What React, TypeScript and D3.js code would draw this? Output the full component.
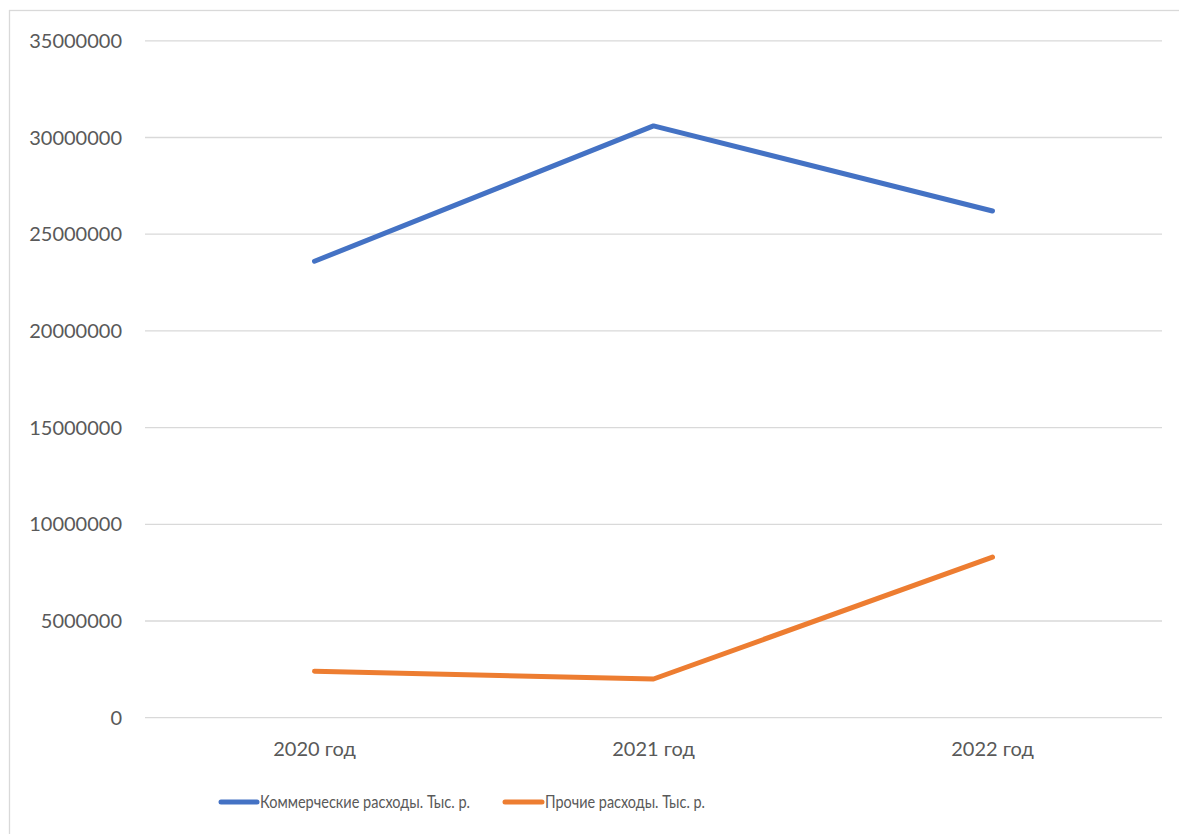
import React from "react";
import * as d3 from "d3";

const categories = ["2020 год", "2021 год", "2022 год"];
const commercial = [23600000, 30600000, 26200000];
const other = [2400000, 2000000, 8300000];
const yTicks = [0, 5000000, 10000000, 15000000, 20000000, 25000000, 30000000, 35000000];
const seriesNames = ["Коммерческие расходы. Тыс. р.", "Прочие расходы. Тыс. р."];
const seriesColors = ["#4472C4", "#ED7D31"];

const W = 1179;
const H = 834;
const FONT = "Lato, 'Open Sans', sans-serif";

export default function App() {
  const x = d3.scaleBand<string>().domain(categories).range([145, 1162]);
  const y = d3.scaleLinear().domain([0, 35000000]).range([717.7, 40.8]);
  const line = d3
    .line<number>()
    .x((_, i) => (x(categories[i]) as number) + x.bandwidth() / 2)
    .y((d) => y(d));
  const series = [commercial, other];

  return (
    <svg
      width={W}
      height={H}
      style={{ position: "absolute", left: 0, top: 0, display: "block", background: "#fff" }}
      fontFamily={FONT}
    >
      <rect x={9.5} y={10.5} width={W + 10} height={H + 10} fill="#fff" stroke="#d9d9d9" strokeWidth={1.3} />
      {yTicks.map((t) => (
        <g key={t}>
          <line x1={145} x2={1162} y1={y(t)} y2={y(t)} stroke="#d9d9d9" strokeWidth={1.3} />
          <text x={122} y={y(t)} dy="0.35em" textAnchor="end" fontSize={20} fill="#595959">
            {t}
          </text>
        </g>
      ))}
      {categories.map((c) => (
        <text
          key={c}
          x={(x(c) as number) + x.bandwidth() / 2}
          y={749}
          dy="0.35em"
          textAnchor="middle"
          fontSize={20}
          fill="#595959"
        >
          {c}
        </text>
      ))}
      {series.map((s, i) => (
        <path
          key={i}
          d={line(s) as string}
          fill="none"
          stroke={seriesColors[i]}
          strokeWidth={5}
          strokeLinecap="round"
          strokeLinejoin="round"
        />
      ))}
      {[
        { x1: 221, x2: 257, tx: 260, len: 210 },
        { x1: 505, x2: 542, tx: 545, len: 160 },
      ].map((l, i) => (
        <g key={i}>
          <line x1={l.x1} x2={l.x2} y1={802} y2={802} stroke={seriesColors[i]} strokeWidth={5} strokeLinecap="round" />
          <text
            x={l.tx}
            y={802}
            dy="0.36em"
            fontSize={17.5}
            fill="#595959"
            textLength={l.len}
            lengthAdjust="spacingAndGlyphs"
          >
            {seriesNames[i]}
          </text>
        </g>
      ))}
    </svg>
  );
}
